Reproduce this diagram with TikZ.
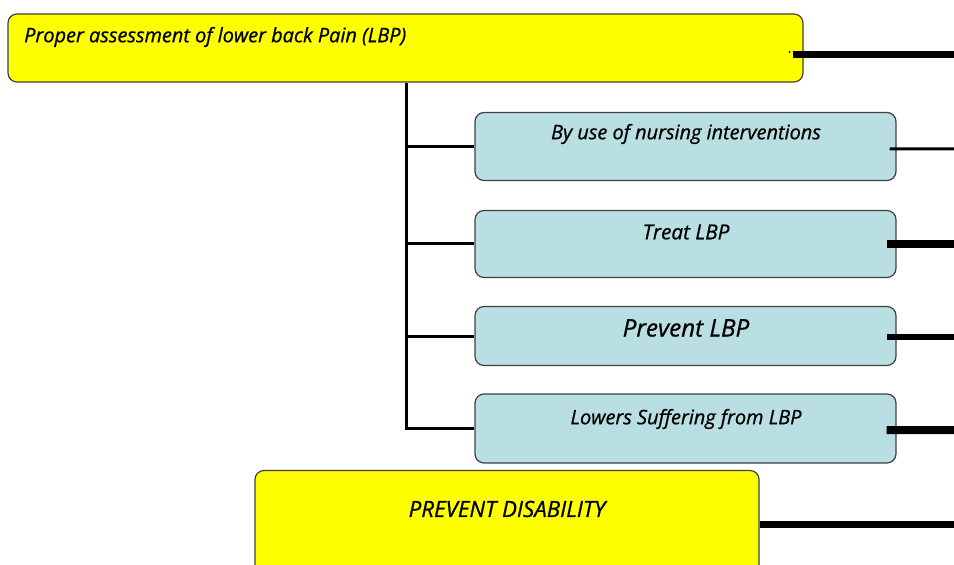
\documentclass[tikz,border=0pt]{standalone}
\usepackage{fontspec}
\setmainfont{Open Sans}
\usetikzlibrary{calc}
\definecolor{boxyellow}{HTML}{FFFF00}
\definecolor{boxblue}{HTML}{B9DFE2}
\definecolor{boxedge}{HTML}{404040}
\tikzset{
  ybox/.style={draw=boxedge, line width=1.2bp, fill=boxyellow, rounded corners=9bp, inner sep=0pt},
  bbox/.style={draw=boxedge, line width=1.2bp, fill=boxblue, rounded corners=9bp, inner sep=0pt,
               minimum width=421bp, minimum height=68bp},
  lbl/.style={inner sep=0pt, text=black, font=\itshape\fontsize{20}{24}\selectfont\addfontfeature{FakeBold=0.8}},
  branch/.style={line width=3bp, black},
}
\begin{document}
\begin{tikzpicture}[x=1bp,y=-1bp]
\useasboundingbox (0,0) rectangle (954,565);
% boxes
\node[ybox, minimum width=795bp, minimum height=68bp] (top) at (405.5,48) {};
\node[bbox] (b1) at (685.5,146.5) {};
\node[bbox, minimum height=67bp] (b2) at (685.5,244) {};
\node[bbox, minimum height=59bp] (b3) at (685.5,336) {};
\node[bbox, minimum height=69bp] (b4) at (685.5,428.5) {};
\node[ybox, minimum width=504bp, minimum height=106bp] (dis) at (507,523.5) {};
% labels
\node[lbl, anchor=west] (ttop) at (24,37) {Proper assessment of lower back Pain (LBP)};
\node[lbl] (t1) at (686,134) {By use of nursing interventions};
\node[lbl, font=\itshape\fontsize{20.8}{24}\selectfont\addfontfeature{FakeBold=0.8}] (t2) at (686,232) {Treat LBP};
\node[lbl, font=\itshape\fontsize{24.3}{28}\selectfont\addfontfeature{FakeBold=0.8}] (t3) at (686,328) {Prevent LBP};
\node[lbl] (t4) at (686,419) {Lowers Suffering from LBP};
\node[lbl, font=\itshape\fontsize{22.4}{26}\selectfont\addfontfeature{FakeBold=0.8}] (t5) at (507,509) {PREVENT DISABILITY};
% tree
\coordinate (trunk) at (406,0);
\draw[branch] (top.south -| trunk) |- (b4.west);
\draw[branch] (trunk |- b1.west) -- (b1.west);
\draw[branch] (trunk |- b2.west) -- (b2.west);
\draw[branch] (trunk |- b3.west) -- (b3.west);
% right-hand lines
\coordinate (e0) at (954,55);
\coordinate (e1) at (954,149);
\coordinate (e2) at (954,244);
\coordinate (e3) at (954,337);
\coordinate (e4) at (954,430);
\coordinate (e5) at (954,524);
\fill[black] ([shift={(-14,4)}]top.east) circle (1bp);
\draw[line width=7bp] ([shift={(-11,7)}]top.east) -- (e0);
\draw[line width=3bp] ([shift={(-7,2.5)}]b1.east) -- (e1);
\draw[line width=8bp] ([shift={(-10,0)}]b2.east) -- (e2);
\draw[line width=6bp] ([shift={(-10,1)}]b3.east) -- (e3);
\draw[line width=8bp] ([shift={(-10,1.5)}]b4.east) -- (e4);
\draw[line width=7bp] (dis.east |- e5) -- (e5);
\end{tikzpicture}
\end{document}
